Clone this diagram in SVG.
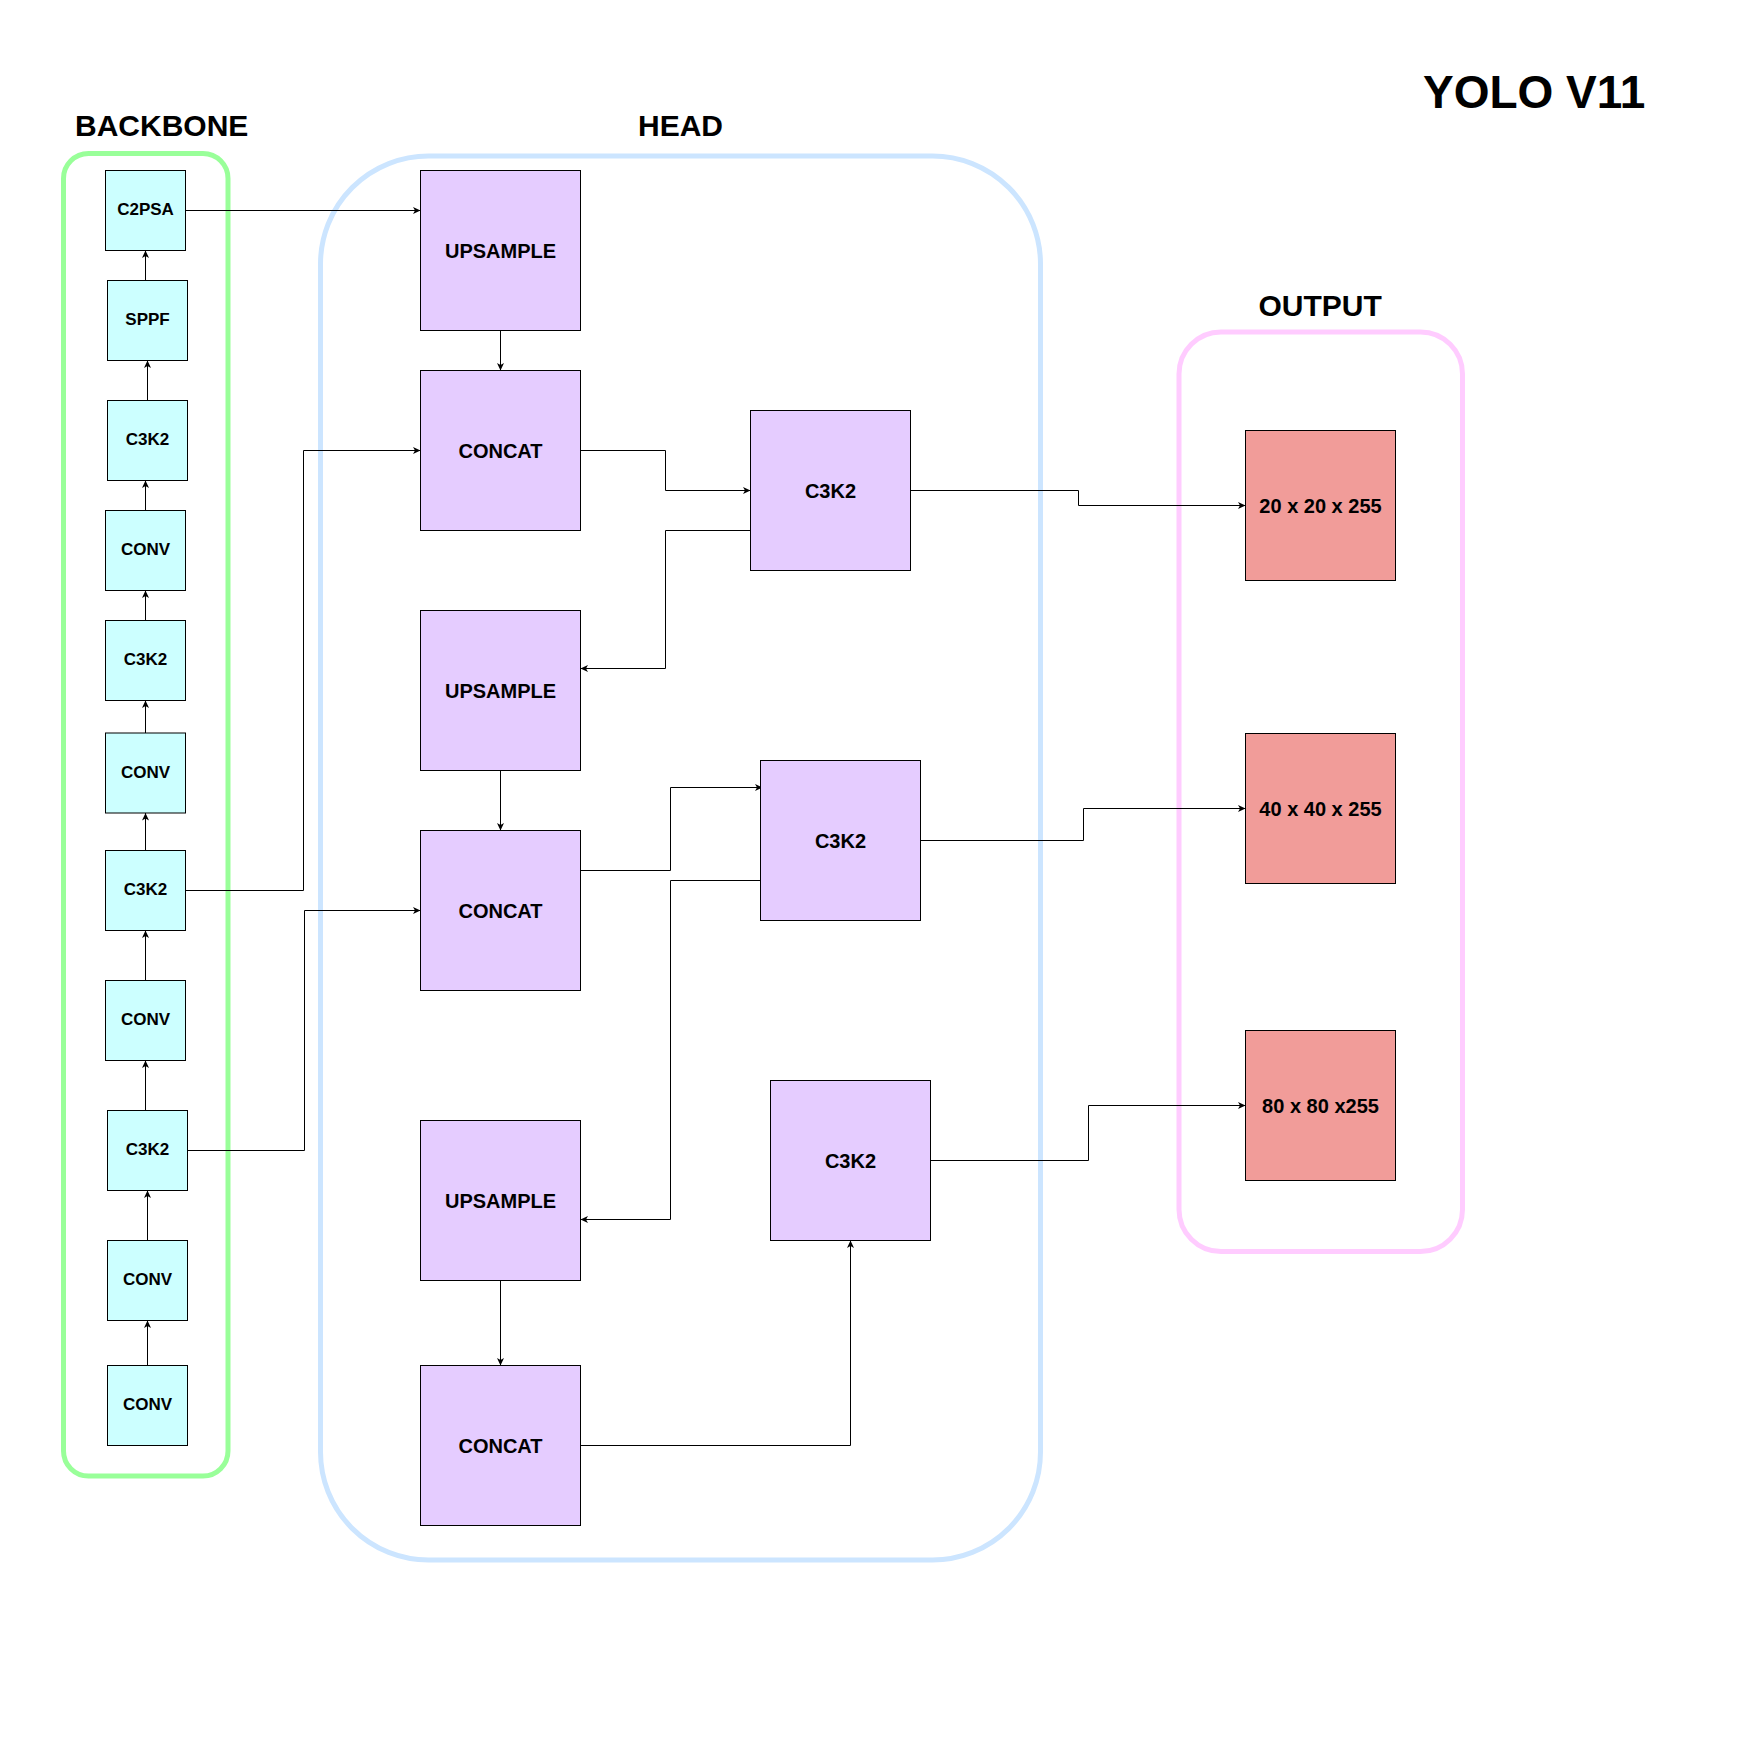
<svg xmlns="http://www.w3.org/2000/svg" width="1750" height="1750" viewBox="0 0 1750 1750">
<defs>
<marker id="arr" markerUnits="userSpaceOnUse" markerWidth="10" markerHeight="10" viewBox="-8 -5 9 10" refX="0" refY="0" orient="auto">
<path d="M0,0 L-7.5,-3.5 L-5.5,0 L-7.5,3.5 Z" fill="#000"/>
</marker>
<style>
.bb{fill:#CCFFFF;stroke:#000;stroke-width:1}
.hd{fill:#E5CCFF;stroke:#000;stroke-width:1}
.op{fill:#F19C99;stroke:#000;stroke-width:1}
.t17{font-family:"Liberation Sans",Arial,sans-serif;font-weight:bold;font-size:17px;text-anchor:middle;fill:#000}
.t20{font-family:"Liberation Sans",Arial,sans-serif;font-weight:bold;font-size:20px;text-anchor:middle;fill:#000}
.ttl{font-family:"Liberation Sans",Arial,sans-serif;font-weight:bold;font-size:30px;fill:#000}
.con{fill:none;stroke:#000;stroke-width:1;marker-end:url(#arr)}
</style>
</defs>
<rect width="1750" height="1750" fill="#fff"/>

<g id="groups">
<rect x="63.5" y="153.5" width="164.5" height="1322.5" rx="25" ry="25" fill="none" stroke="#99FF99" stroke-width="5"/>
<rect x="320.5" y="156" width="720" height="1404" rx="108" ry="108" fill="none" stroke="#CCE5FF" stroke-width="5"/>
<rect x="1179" y="332" width="283.5" height="919.5" rx="42" ry="42" fill="none" stroke="#FFCCFF" stroke-width="5"/>
</g>

<g id="titles">
<text class="ttl" x="75" y="135.5">BACKBONE</text>
<text class="ttl" x="638" y="135.5">HEAD</text>
<text class="ttl" x="1258.5" y="316">OUTPUT</text>
<text class="ttl" x="1423" y="108" style="font-size:46px">YOLO V11</text>
</g>

<g id="connectors">
<path class="con" d="M147.5,1365.5 V1320.5"/>
<path class="con" d="M147.5,1240.5 V1190.5"/>
<path class="con" d="M145.5,1110.5 V1060.5"/>
<path class="con" d="M145.5,980.5 V930.5"/>
<path class="con" d="M145.5,850.5 V813"/>
<path class="con" d="M145.5,733 V700.5"/>
<path class="con" d="M145.5,620.5 V590.5"/>
<path class="con" d="M145.5,510.5 V480.5"/>
<path class="con" d="M147.5,400.5 V360.5"/>
<path class="con" d="M145.5,280.5 V250.5"/>
<path class="con" d="M185.5,210.5 H420.5"/>
<path class="con" d="M185.5,890.5 H303.5 V450.5 H420.5"/>
<path class="con" d="M187.5,1150.5 H304.5 V910.5 H420.5"/>
<path class="con" d="M500.5,330.5 V370.5"/>
<path class="con" d="M580.5,450.5 H665.5 V490.5 H750.5"/>
<path class="con" d="M750.5,530.5 H665.5 V668.5 H580.5"/>
<path class="con" d="M500.5,770.5 V830.5"/>
<path class="con" d="M580.5,870.5 H670.5 V787.5 H762.5"/>
<path class="con" d="M760.5,880.5 H670.5 V1219.5 H580.5"/>
<path class="con" d="M500.5,1280.5 V1365.5"/>
<path class="con" d="M580.5,1445.5 H850.5 V1240.5"/>
<path class="con" d="M910.5,490.5 H1078.5 V505.5 H1245.5"/>
<path class="con" d="M920.5,840.5 H1083.5 V808.5 H1245.5"/>
<path class="con" d="M930.5,1160.5 H1088.5 V1105.5 H1245.5"/>
</g>

<g id="n-c2psa"><rect class="bb" x="105.5" y="170.5" width="80" height="80"/><text class="t17" x="145.5" y="215">C2PSA</text></g>
<g id="n-sppf"><rect class="bb" x="107.5" y="280.5" width="80" height="80"/><text class="t17" x="147.5" y="325">SPPF</text></g>
<g id="n-c3k2-a"><rect class="bb" x="107.5" y="400.5" width="80" height="80"/><text class="t17" x="147.5" y="445">C3K2</text></g>
<g id="n-conv-a"><rect class="bb" x="105.5" y="510.5" width="80" height="80"/><text class="t17" x="145.5" y="555">CONV</text></g>
<g id="n-c3k2-b"><rect class="bb" x="105.5" y="620.5" width="80" height="80"/><text class="t17" x="145.5" y="665">C3K2</text></g>
<g id="n-conv-b"><rect class="bb" x="105.5" y="733" width="80" height="80"/><text class="t17" x="145.5" y="777.5">CONV</text></g>
<g id="n-c3k2-c"><rect class="bb" x="105.5" y="850.5" width="80" height="80"/><text class="t17" x="145.5" y="895">C3K2</text></g>
<g id="n-conv-c"><rect class="bb" x="105.5" y="980.5" width="80" height="80"/><text class="t17" x="145.5" y="1025">CONV</text></g>
<g id="n-c3k2-d"><rect class="bb" x="107.5" y="1110.5" width="80" height="80"/><text class="t17" x="147.5" y="1155">C3K2</text></g>
<g id="n-conv-d"><rect class="bb" x="107.5" y="1240.5" width="80" height="80"/><text class="t17" x="147.5" y="1285">CONV</text></g>
<g id="n-conv-e"><rect class="bb" x="107.5" y="1365.5" width="80" height="80"/><text class="t17" x="147.5" y="1410">CONV</text></g>

<g id="n-upsample-1"><rect class="hd" x="420.5" y="170.5" width="160" height="160"/><text class="t20" x="500.5" y="257.5">UPSAMPLE</text></g>
<g id="n-concat-1"><rect class="hd" x="420.5" y="370.5" width="160" height="160"/><text class="t20" x="500.5" y="457.5">CONCAT</text></g>
<g id="n-upsample-2"><rect class="hd" x="420.5" y="610.5" width="160" height="160"/><text class="t20" x="500.5" y="697.5">UPSAMPLE</text></g>
<g id="n-concat-2"><rect class="hd" x="420.5" y="830.5" width="160" height="160"/><text class="t20" x="500.5" y="917.5">CONCAT</text></g>
<g id="n-upsample-3"><rect class="hd" x="420.5" y="1120.5" width="160" height="160"/><text class="t20" x="500.5" y="1207.5">UPSAMPLE</text></g>
<g id="n-concat-3"><rect class="hd" x="420.5" y="1365.5" width="160" height="160"/><text class="t20" x="500.5" y="1452.5">CONCAT</text></g>
<g id="n-c3k2-h1"><rect class="hd" x="750.5" y="410.5" width="160" height="160"/><text class="t20" x="830.5" y="497.5">C3K2</text></g>
<g id="n-c3k2-h2"><rect class="hd" x="760.5" y="760.5" width="160" height="160"/><text class="t20" x="840.5" y="847.5">C3K2</text></g>
<g id="n-c3k2-h3"><rect class="hd" x="770.5" y="1080.5" width="160" height="160"/><text class="t20" x="850.5" y="1167.5">C3K2</text></g>

<g id="n-out-20"><rect class="op" x="1245.5" y="430.5" width="150" height="150"/><text class="t20" x="1320.5" y="512.5">20 x 20 x 255</text></g>
<g id="n-out-40"><rect class="op" x="1245.5" y="733.5" width="150" height="150"/><text class="t20" x="1320.5" y="815.5">40 x 40 x 255</text></g>
<g id="n-out-80"><rect class="op" x="1245.5" y="1030.5" width="150" height="150"/><text class="t20" x="1320.5" y="1112.5">80 x 80 x255</text></g>
</svg>
